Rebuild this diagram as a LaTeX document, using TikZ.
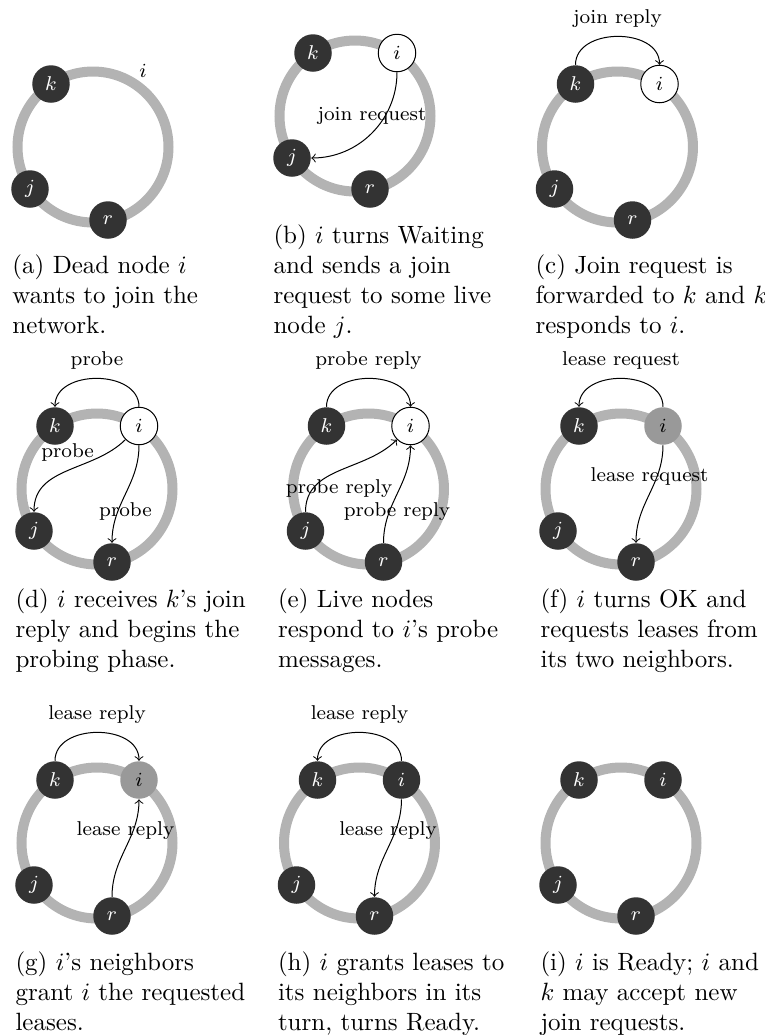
\documentclass[tikz,border=0pt]{standalone}
\usetikzlibrary{calc}
\definecolor{ringgray}{HTML}{B3B3B3}
\definecolor{darkfill}{HTML}{333333}
\definecolor{midgray}{HTML}{999999}
\newcommand{\ringpanel}[3]{%
  \coordinate (#1c) at (#2,#3);
  \draw[ringline] (#1c) circle[radius=75.5];
  \node[live] (#1k) at ($(#1c)+(-42,63)$) {$k$};
  \node[live] (#1j) at ($(#1c)+(-63,-42)$) {$j$};
  \node[live] (#1r) at ($(#1c)+(15,-73)$) {$r$};
}
\newcommand{\capbox}[1]{\vtop{\baselineskip=12pt\relax #1}}
\begin{document}
\begin{tikzpicture}[x=0.4pt,y=0.4pt,
  ringline/.style={draw=ringgray,line width=4pt},
  basenode/.style={circle,minimum size=15pt,inner sep=0pt,font=\footnotesize},
  live/.style={basenode,fill=darkfill,text=white},
  waiting/.style={basenode,draw=black,line width=0.4pt,fill=white},
  okstate/.style={basenode,fill=midgray,text=black},
  msg/.style={->,line width=0.4pt},
  arc/.style={msg,looseness=1.15},
  lbl/.style={font=\footnotesize},
  capt/.style={anchor=base west,inner sep=0pt}]
\useasboundingbox (0,0) rectangle (765,-1035);

% (a)
\ringpanel{a}{93}{-147}
\node[lbl] (ai) at ($(ac)+(50,76)$) {$i$};
\node[capt] (capa) at (12,-273) {\capbox{\hbox{(a) Dead node $i$}\hbox{wants to join the}\hbox{network.}}};

% (b)
\ringpanel{b}{355}{-116}
\node[waiting] (bi) at ($(bc)+(42,63)$) {$i$};
\draw[msg] (bi) to[out=-90,in=0] node[lbl,above] {join request} (bj);
\node[capt] (capb) at (273,-243) {\capbox{\hbox{(b) $i$ turns Waiting}\hbox{and sends a join}\hbox{request to some live}\hbox{node $j$.}}};

% (c)
\ringpanel{c}{617.5}{-147}
\node[waiting] (ci) at ($(cc)+(42,63)$) {$i$};
\draw[arc] (ck) to[out=90,in=90] node[lbl,above] {join reply} (ci);
\node[capt] (capc) at (535,-273) {\capbox{\hbox{(c) Join request is}\hbox{forwarded to $k$ and $k$}\hbox{responds to $i$.}}};

% (d)
\ringpanel{d}{97}{-489}
\node[waiting] (di) at ($(dc)+(42,63)$) {$i$};
\draw[arc] (di) to[out=90,in=90] node[lbl,above] {probe} (dk);
\draw[msg] (di) to[out=225,in=90] node[lbl,above] {probe} (dj);
\draw[msg] (di) to[out=-90,in=90] node[lbl,below] {probe} (dr);
\node[capt] (capd) at (15,-607) {\capbox{\hbox{(d) $i$ receives $k$'s join}\hbox{reply and begins the}\hbox{probing phase.}}};

% (e)
\ringpanel{e}{368.5}{-489}
\node[waiting] (ei) at ($(ec)+(42,63)$) {$i$};
\draw[arc] (ek) to[out=90,in=90] node[lbl,above] {probe reply} (ei);
\draw[msg] (ej) to[out=90,in=225] node[lbl,below] {probe reply} (ei);
\draw[msg] (er) to[out=90,in=-90] node[lbl,below] {probe reply} (ei);
\node[capt] (cape) at (277.5,-607) {\capbox{\hbox{(e) Live nodes}\hbox{respond to $i$'s probe}\hbox{messages.}}};

% (f)
\ringpanel{f}{621}{-489}
\node[okstate] (fi) at ($(fc)+(42,63)$) {$i$};
\draw[arc] (fi) to[out=90,in=90] node[lbl,above] {lease request} (fk);
\draw[msg] (fi) to[out=-90,in=90] node[lbl,above] {lease request} (fr);
\node[capt] (capf) at (540,-607) {\capbox{\hbox{(f) $i$ turns OK and}\hbox{requests leases from}\hbox{its two neighbors.}}};

% (g)
\ringpanel{g}{97}{-843}
\node[okstate] (gi) at ($(gc)+(42,63)$) {$i$};
\draw[arc] (gk) to[out=90,in=90] node[lbl,above] {lease reply} (gi);
\draw[msg] (gr) to[out=90,in=-90] node[lbl,above] {lease reply} (gi);
\node[capt] (capg) at (15,-970) {\capbox{\hbox{(g) $i$'s neighbors}\hbox{grant $i$ the requested}\hbox{leases.}}};

% (h)
\ringpanel{h}{359.5}{-843}
\node[live] (hi) at ($(hc)+(42,63)$) {$i$};
\draw[arc] (hi) to[out=90,in=90] node[lbl,above] {lease reply} (hk);
\draw[msg] (hi) to[out=-90,in=90] node[lbl,above] {lease reply} (hr);
\node[capt] (caph) at (277.5,-970) {\capbox{\hbox{(h) $i$ grants leases to}\hbox{its neighbors in its}\hbox{turn, turns Ready.}}};

% (i)
\ringpanel{i}{621}{-843}
\node[live] (ii) at ($(ic)+(42,63)$) {$i$};
\node[capt] (capi) at (540,-970) {\capbox{\hbox{(i) $i$ is Ready; $i$ and}\hbox{$k$ may accept new}\hbox{join requests.}}};
\end{tikzpicture}
\end{document}
